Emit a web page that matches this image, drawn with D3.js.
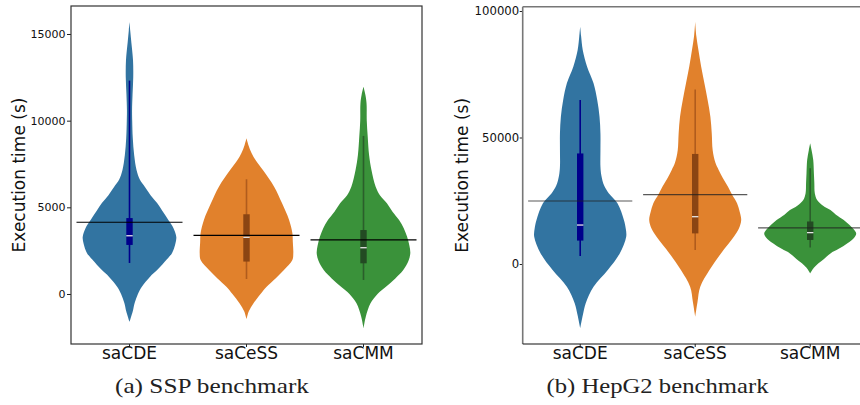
<!DOCTYPE html>
<html>
<head>
<meta charset="utf-8">
<script src="https://cdn.jsdelivr.net/npm/d3@7"></script>
<style>
  body { margin: 0; background: #fff; }
  svg { display: block; }
</style>
</head>
<body>
<div id="chart"></div>
<script>
// categories and colours (seaborn deep, saturation .75)
var categories = ["saCDE", "saCeSS", "saCMM"];
var violinColors = ["#3274a1", "#e1812c", "#3a923a"];
var boxColors = ["#00008b", "#8b4513", "#234a23"];
var whiskerColors = ["#00008b", "#b05c1d", "#2b5e2b"];

// SSP benchmark: violin outlines as [value, relative width]
var sspCDE = [[-1615,0],[-1000,0.07],[-520,0.11],[0,0.18],[400,0.26],[1000,0.44],[1380,0.59],[2000,0.8],[2370,0.91],[2900,0.98],[3290,1],[3800,0.94],[4270,0.83],[4800,0.7],[5250,0.59],[5700,0.45],[6170,0.33],[6600,0.22],[7150,0.15],[8000,0.1],[9000,0.07],[10000,0.058],[10600,0.055],[11500,0.065],[12500,0.08],[13500,0.075],[14500,0.04],[15200,0.015],[15690,0]];
var sspCeSS = [[-1460,0],[-1000,0.05],[-540,0.15],[0,0.3],[420,0.43],[900,0.62],[1380,0.8],[1960,0.98],[2350,1],[3000,0.99],[3520,0.98],[4270,0.91],[5230,0.76],[6190,0.59],[7150,0.35],[7700,0.2],[8120,0.11],[8600,0.04],[8980,0]];
var sspCMM = [[-1980,0],[-1300,0.05],[-540,0.15],[0,0.3],[420,0.48],[900,0.68],[1380,0.85],[1900,0.96],[2350,1],[2800,0.98],[3310,0.93],[3800,0.86],[4270,0.76],[4750,0.62],[5230,0.5],[5700,0.35],[6190,0.26],[7150,0.17],[8000,0.12],[9080,0.09],[10000,0.07],[11000,0.065],[11500,0.04],[11960,0]];

// SSP summary stats per category
var sspWhiskLow = [1790, 865, 810];
var sspQ1 = [2830, 1870, 1770];
var sspMedian = [3360, 3270, 2670];
var sspQ3 = [4380, 4600, 3690];
var sspWhiskHigh = [12310, 6620, 9120];
var sspMean = [4140, 3380, 3120];
var sspTicks = [0, 5000, 10000, 15000];

// HepG2 benchmark
var hepCDE = [[-25400,0],[-20000,0.06],[-15500,0.12],[-9000,0.29],[-2400,0.6],[4200,0.86],[10800,1],[14000,0.99],[17400,0.95],[24000,0.81],[28000,0.62],[31000,0.52],[35000,0.46],[38500,0.44],[45000,0.44],[51600,0.44],[58200,0.42],[64800,0.37],[71400,0.29],[78000,0.15],[84600,0.055],[90000,0.02],[93800,0]];
var hepCeSS = [[-20800,0],[-15000,0.05],[-9000,0.11],[-2400,0.31],[4200,0.56],[10800,0.84],[14000,0.95],[17400,1],[20500,0.97],[24000,0.91],[27500,0.8],[30600,0.71],[34000,0.6],[37200,0.51],[40000,0.44],[45000,0.38],[51600,0.36],[58200,0.33],[64800,0.27],[71400,0.2],[78000,0.13],[84600,0.07],[90000,0.025],[95800,0]];
var hepCMM = [[-3700,0],[-1500,0.08],[300,0.18],[2000,0.3],[4200,0.44],[6000,0.62],[8200,0.81],[10500,0.96],[12100,1],[13800,0.94],[15500,0.85],[17400,0.73],[19500,0.56],[21300,0.44],[23000,0.28],[25300,0.15],[28000,0.1],[31900,0.09],[36000,0.08],[41100,0.066],[45000,0.03],[47700,0]];

var hepWhiskLow = [3200, 5500, 6500];
var hepQ1 = [9250, 12100, 9500];
var hepMedian = [15400, 18700, 12400];
var hepQ3 = [43700, 43500, 16800];
var hepWhiskHigh = [64800, 69000, 37800];
var hepMean = [24900, 27400, 14300];
var hepTicks = [0, 50000, 100000];

var W = 860, H = 405;
var svg = d3.select("#chart").append("svg")
    .attr("width", W)
    .attr("height", H);

draw_panel({
  left: 71, right: 422, top: 6, bottom: 344,
  domain: [-2885, 16615],
  ticks: sspTicks, tickSize: 4, tickPad: 1.5, tickFont: 11,
  violins: [sspCDE, sspCeSS, sspCMM],
  wl: sspWhiskLow, q1: sspQ1, med: sspMedian, q3: sspQ3, wh: sspWhiskHigh, mean: sspMean,
  ylabelX: 24.5, caption: "(a) SSP benchmark", capX: 212, capLen: 194,
  fullFrame: true, meanColor: "#000", meanOpacity: 1
});

draw_panel({
  left: 522.7, right: 867.7, top: 6.7, bottom: 344,
  domain: [-31620, 101700],
  ticks: hepTicks, tickSize: 3, tickPad: 0.5, tickFont: 11.7,
  violins: [hepCDE, hepCeSS, hepCMM],
  wl: hepWhiskLow, q1: hepQ1, med: hepMedian, q3: hepQ3, wh: hepWhiskHigh, mean: hepMean,
  ylabelX: 468, caption: "(b) HepG2 benchmark", capX: 657.5, capLen: 222,
  fullFrame: false, meanColor: "#222", meanOpacity: 0.75
});

function draw_panel(p)
{
  var x = d3.scaleBand()
      .domain(categories)
      .range([p.left, p.right]);
  var bw = x.bandwidth();
  var y = d3.scaleLinear()
      .domain(p.domain)
      .range([p.bottom, p.top]);

  var g = svg.append("g");

  // violins
  p.violins.forEach(function(v, i) {
    var xc = x(categories[i]) + bw / 2;
    var area = d3.area()
        .y(function(d) { return y(d[0]); })
        .x0(function(d) { return xc - d[1] * 0.4 * bw; })
        .x1(function(d) { return xc + d[1] * 0.4 * bw; })
        .curve(d3.curveCatmullRom);
    g.append("path")
        .datum(v)
        .attr("d", area)
        .attr("fill", violinColors[i]);

    // inner box
    g.append("line")
        .attr("x1", xc).attr("x2", xc)
        .attr("y1", y(p.wl[i])).attr("y2", y(p.wh[i]))
        .attr("stroke", whiskerColors[i])
        .attr("stroke-width", 1.6);
    g.append("rect")
        .attr("x", xc - 3.2)
        .attr("width", 6.4)
        .attr("y", y(p.q3[i]))
        .attr("height", y(p.q1[i]) - y(p.q3[i]))
        .attr("fill", boxColors[i]);
    g.append("line")
        .attr("x1", xc - 3.2).attr("x2", xc + 3.2)
        .attr("y1", y(p.med[i])).attr("y2", y(p.med[i]))
        .attr("stroke", "#e6e6e6")
        .attr("stroke-width", 1.3);

    // mean line
    g.append("line")
        .attr("x1", xc - 0.453 * bw).attr("x2", xc + 0.453 * bw)
        .attr("y1", y(p.mean[i])).attr("y2", y(p.mean[i]))
        .attr("stroke", p.meanColor)
        .attr("stroke-opacity", p.meanOpacity)
        .attr("stroke-width", 1.2);
  });

  // y axis
  var ya = g.append("g")
      .attr("transform", "translate(" + p.left + ",0)")
      .call(d3.axisLeft(y)
          .tickValues(p.ticks)
          .tickSize(p.tickSize)
          .tickPadding(p.tickPad)
          .tickFormat(d3.format("d")));
  ya.select(".domain").remove();
  ya.selectAll("text")
      .attr("font-family", "DejaVu Sans")
      .attr("font-size", p.tickFont)
      .attr("fill", "#111");
  ya.selectAll("line").attr("stroke", "#222");

  // x axis
  var xa = g.append("g")
      .attr("transform", "translate(0," + p.bottom + ")")
      .call(d3.axisBottom(x)
          .tickSize(3)
          .tickPadding(0));
  xa.select(".domain").remove();
  xa.selectAll("text")
      .attr("font-family", "DejaVu Sans")
      .attr("font-size", 17)
      .attr("fill", "#111");
  xa.selectAll("line").attr("stroke", "#222");

  // frame
  if (p.fullFrame) {
    g.append("rect")
        .attr("x", p.left).attr("y", p.top)
        .attr("width", p.right - p.left)
        .attr("height", p.bottom - p.top)
        .attr("fill", "none")
        .attr("stroke", "#333")
        .attr("stroke-width", 1.2);
  } else {
    g.append("line")
        .attr("x1", p.left).attr("x2", p.left)
        .attr("y1", p.top).attr("y2", p.bottom)
        .attr("stroke", "#777").attr("stroke-width", 1.6);
    g.append("line")
        .attr("x1", p.left).attr("x2", p.right)
        .attr("y1", p.top).attr("y2", p.top)
        .attr("stroke", "#777").attr("stroke-width", 1.6);
    g.append("line")
        .attr("x1", p.left).attr("x2", p.right)
        .attr("y1", p.bottom).attr("y2", p.bottom)
        .attr("stroke", "#111").attr("stroke-width", 1.2);
  }

  // y label
  g.append("text")
      .attr("transform", "translate(" + p.ylabelX + "," + (p.top + p.bottom) / 2 + ") rotate(-90)")
      .attr("text-anchor", "middle")
      .attr("font-family", "DejaVu Sans")
      .attr("font-size", 17)
      .attr("fill", "#111")
      .text("Execution time (s)");

  // caption
  g.append("text")
      .attr("x", p.capX)
      .attr("y", 393)
      .attr("text-anchor", "middle")
      .attr("font-family", "Liberation Serif")
      .attr("font-size", 21)
      .attr("fill", "#222")
      .attr("textLength", p.capLen)
      .attr("lengthAdjust", "spacingAndGlyphs")
      .text(p.caption);
}
</script>
</body>
</html>
